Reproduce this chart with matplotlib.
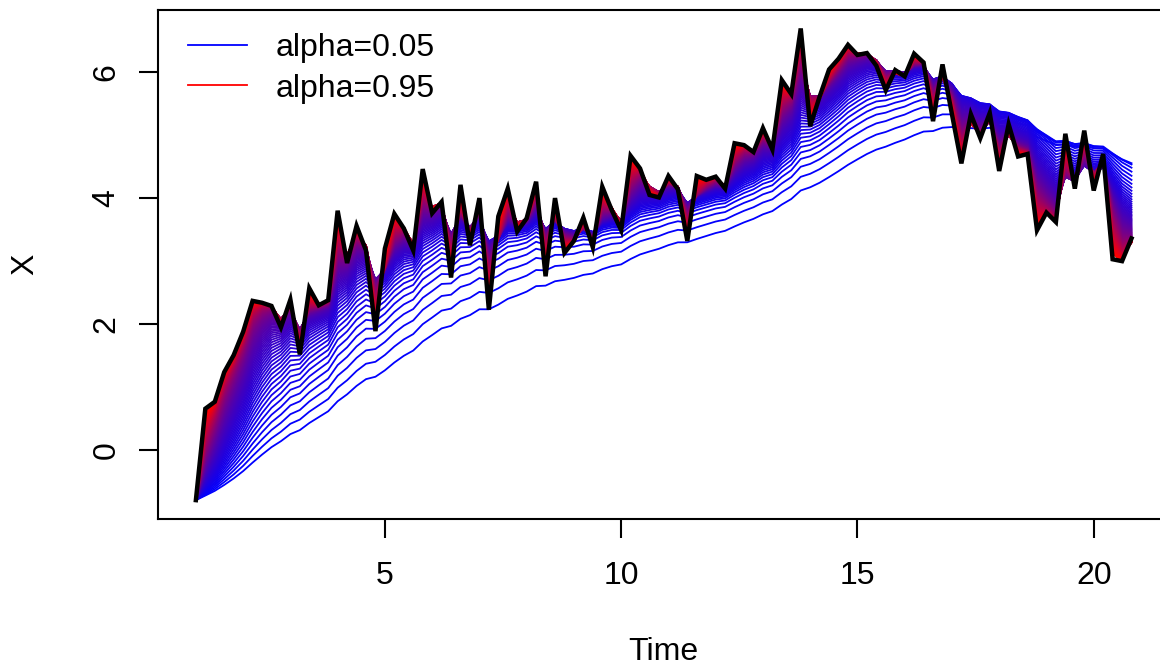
import matplotlib
matplotlib.use("Agg")
import matplotlib.pyplot as plt
import numpy as np

# observed series X (ts, start=1, frequency=5)
start_time = 1.0
frequency = 5
x_values = [
    -0.79, 0.66, 0.77, 1.24, 1.51, 1.88, 2.37, 2.34, 2.29, 1.95,
    2.39, 1.52, 2.57, 2.30, 2.38, 3.80, 2.97, 3.56, 3.17, 1.89,
    3.20, 3.75, 3.52, 3.17, 4.46, 3.76, 3.94, 2.74, 4.21, 3.25,
    4.00, 2.23, 3.71, 4.15, 3.47, 3.68, 4.26, 2.76, 4.00, 3.13,
    3.32, 3.69, 3.22, 4.18, 3.81, 3.49, 4.67, 4.47, 4.05, 4.01,
    4.35, 4.14, 3.32, 4.35, 4.29, 4.34, 4.15, 4.87, 4.84, 4.73,
    5.11, 4.77, 5.87, 5.65, 6.69, 5.14, 5.61, 6.04, 6.21, 6.43,
    6.27, 6.30, 6.10, 5.71, 6.03, 5.93, 6.29, 6.15, 5.22, 6.12,
    5.33, 4.55, 5.33, 4.95, 5.35, 4.43, 5.17, 4.66, 4.70, 3.49,
    3.77, 3.62, 5.02, 4.15, 5.07, 4.12, 4.70, 3.03, 3.00, 3.36,
]
alphas = np.round(np.arange(0.05, 0.951, 0.01), 2)
legend_labels = ["alpha=0.05", "alpha=0.95"]

x = np.array(x_values)
time = start_time + np.arange(len(x)) / frequency


def exp_smooth(series, a):
    out = np.empty_like(series)
    out[0] = series[0]
    for k in range(1, len(series)):
        out[k] = a * series[k] + (1 - a) * out[k - 1]
    return out


plt.rcParams["font.family"] = ["Liberation Sans", "DejaVu Sans"]
fs = 23
fig = plt.figure(figsize=(11.6, 6.67), dpi=100)
ax = fig.add_axes([0.1366, 0.2219, 0.8711, 0.7637])

n = len(alphas)
for j, a in enumerate(alphas):
    frac = j / (n - 1)
    ax.plot(time, exp_smooth(x, a), color=(frac, 0, 1 - frac), lw=1.3)
ax.plot(time, x, color="black", lw=3.2, solid_joinstyle="miter")

ax.margins(x=0.04, y=0.04)
ax.set_xticks([5, 10, 15, 20])
ax.set_yticks([0, 2, 4, 6])
for s in ax.spines.values():
    s.set_linewidth(1.5)
# box runs past the right edge of the picture in the original
ax.spines["right"].set_visible(False)
ax.tick_params(length=13.5, width=1.5, labelsize=fs, pad=17)
ax.tick_params(axis="y", pad=13)
for lab in ax.get_yticklabels():
    lab.set_rotation(90)
    lab.set_va("center")

fig.text(663 / 1160, 1 - 652 / 667, "Time", ha="center", va="center", fontsize=fs)
fig.text(25 / 1160, 1 - 264 / 667, "X", ha="center", va="center", fontsize=fs, rotation=90)

h1, = ax.plot([], [], color="blue", lw=1.3)
h2, = ax.plot([], [], color="red", lw=1.3)
ax.legend([h1, h2], legend_labels, loc="upper left",
          bbox_to_anchor=(188 / 1160, 1 - 33 / 667), bbox_transform=fig.transFigure,
          frameon=False, fontsize=fs, handlelength=1.85, handletextpad=0.9,
          labelspacing=0.33, borderpad=0, borderaxespad=0)

fig.savefig("out.png", dpi=100)
